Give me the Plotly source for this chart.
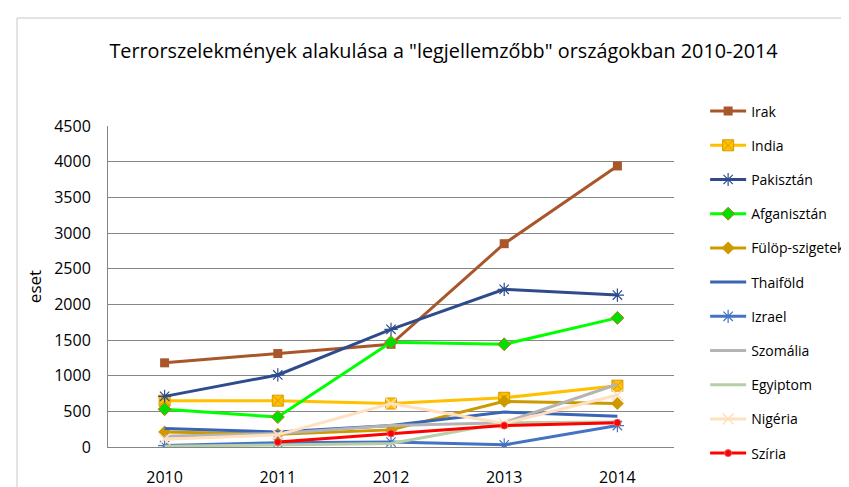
import plotly.graph_objects as go

years = ["2010", "2011", "2012", "2013", "2014"]
irak = [1180, 1310, 1440, 2850, 3940]
india = [650, 650, 610, 690, 860]
pakisztan = [710, 1010, 1650, 2210, 2130]
afganisztan = [530, 420, 1470, 1440, 1810]
fulop = [210, 180, 240, 640, 610]
thaifold = [260, 210, 300, 490, 430]
izrael = [20, 60, 70, 30, 300]
szomalia = [150, 190, 300, 340, 880]
egyiptom = [10, 30, 50, 340, 350]
nigeria = [110, 170, 610, 330, 730]
sziria = [None, 70, 190, 300, 340]

FONT = "Open Sans, Lato, DejaVu Sans, sans-serif"

series = [
    ("Irak", irak, "#A9562B", dict(symbol="square", size=9, color="#A9562B")),
    ("India", india, "#FFC000", dict(symbol="square-x", size=11, color="#FFC000",
                                      line=dict(color="#D99A00", width=1))),
    ("Pakisztán", pakisztan, "#2E4C8C", dict(symbol="asterisk-open", size=11,
                                             line=dict(color="#7F9CD6", width=1.2))),
    ("Afganisztán", afganisztan, "#00FF00", dict(symbol="diamond", size=10, color="#00E000",
                                                 line=dict(color="#C07820", width=1))),
    ("Fülöp-szigetek", fulop, "#CC9900", dict(symbol="diamond", size=10, color="#CC9900")),
    ("Thaiföld", thaifold, "#3A64B4", None),
    ("Izrael", izrael, "#4472C4", dict(symbol="asterisk-open", size=11,
                                       line=dict(color="#9DB3E0", width=1.2))),
    ("Szomália", szomalia, "#B4B4B4", None),
    ("Egyiptom", egyiptom, "#B6CFA8", None),
    ("Nigéria", nigeria, "#FFE0BF", dict(symbol="x-thin-open", size=11,
                                         line=dict(color="#FFE0BF", width=1.5))),
    ("Szíria", sziria, "#FF0000", dict(symbol="circle", size=7, color="#FF0000",
                                       line=dict(color="#E06060", width=1))),
]

fig = go.Figure()
for i, (name, vals, col, mk) in enumerate(series):
    kw = dict(mode="lines+markers", marker=mk) if mk else dict(mode="lines")
    fig.add_trace(go.Scatter(x=years, y=vals, name=name, line=dict(color=col, width=3),
                             legendgroup=f"g{i}", connectgaps=False, **kw))

PW = 566
fig.update_layout(
    width=849, height=487,
    margin=dict(l=100, r=183, t=118, b=48, autoexpand=False),
    paper_bgcolor="white", plot_bgcolor="white",
    font=dict(family=FONT, color="#000000"),
    title=dict(text='Terrorszelekmények alakulása a "legjellemzőbb" országokban 2010-2014',
               x=0.513, xanchor="center", y=0.912, yanchor="middle",
               font=dict(size=19.8, family=FONT, color="#000000")),
    showlegend=True,
    legend=dict(x=1.055, xanchor="left", y=1.095, yanchor="top",
                font=dict(size=14, family=FONT), itemwidth=36,
                tracegroupgap=13, bgcolor="rgba(0,0,0,0)", maxheight=480),
    xaxis=dict(type="category", showgrid=False, showline=True, linecolor="#868686",
               linewidth=1, ticks="", tickfont=dict(size=16), range=[-0.5, 4.5],
               ticklabelstandoff=16, automargin=False),
    yaxis=dict(range=[0, 4500], dtick=500, showgrid=True, gridcolor="#868686",
               gridwidth=1, showline=True, linecolor="#868686", linewidth=1,
               ticks="", tickfont=dict(size=16), zeroline=False, ticklabelstandoff=13,
               automargin=False,
               title=dict(text="eset", font=dict(size=17), standoff=8)),
    shapes=[dict(type="rect", xref="paper", yref="paper",
                 x0=(9 - 100) / PW, x1=1.6, y0=-0.4, y1=(439 - 10) / 321,
                 line=dict(color="#C8C8C8", width=1), layer="below")],
)

fig.write_html("out.html")
